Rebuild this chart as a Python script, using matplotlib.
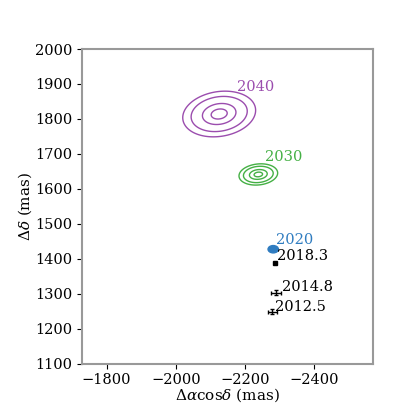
import numpy as np
import matplotlib
matplotlib.use("Agg")
import matplotlib.pyplot as plt
from matplotlib.patches import Ellipse

plt.rcParams['font.family'] = 'DejaVu Serif'
plt.rcParams['mathtext.fontset'] = 'dejavuserif'

# measured epochs (ra offset, dec offset, errors)
epochs = ['2012.5', '2014.8', '2018.3']
ra_obs = [-2278, -2289, -2285]
dec_obs = [1248, 1303, 1387]
ra_err = [13, 13, 0]
dec_err = [7, 7, 0]
obs_marker_size = [0, 0, 2.5]

# predicted positions: centre, outer contour semi-axes, tilt (deg)
pred_years = ['2030', '2040']
pred_colors = ['#45b045', '#9b4dae']
pred_center_ra = [-2238, -2125]
pred_center_dec = [1641, 1814]
pred_semi_a = [56, 106]
pred_semi_b = [30, 64]
pred_tilt = [-6, -9]
contour_fracs = [0.22, 0.46, 0.77, 1.0]

# 2020 prediction (small filled ellipse)
ra_2020 = -2281
dec_2020 = 1427
w_2020 = 30
h_2020 = 21

fig = plt.figure(figsize=(4.15, 4.15), dpi=100)
ax = fig.add_axes([82 / 415, 1 - 363.5 / 415, 291 / 415, 314.5 / 415])

# contours of predicted positions
gx, gy = np.meshgrid(np.linspace(-2600, -1700, 600), np.linspace(1100, 2000, 600))
for i in range(len(pred_years)):
    t = np.deg2rad(pred_tilt[i])
    dx = gx - pred_center_ra[i]
    dy = gy - pred_center_dec[i]
    u = dx * np.cos(t) + dy * np.sin(t)
    v = -dx * np.sin(t) + dy * np.cos(t)
    r = np.sqrt((u / pred_semi_a[i]) ** 2 + (v / pred_semi_b[i]) ** 2)
    ax.contour(gx, gy, r, levels=contour_fracs, colors=pred_colors[i], linewidths=1.0)

ax.add_patch(Ellipse((ra_2020, dec_2020), w_2020, h_2020, color='#2f7cc0'))

for i in range(len(epochs)):
    ax.errorbar(ra_obs[i], dec_obs[i], xerr=ra_err[i], yerr=dec_err[i], fmt='s',
                color='black', markersize=obs_marker_size[i], elinewidth=1,
                capsize=1.5, capthick=1)

# labels
fs = 10.5
ax.text(-2175, 1890, '2040', color=pred_colors[1], fontsize=fs, va='center')
ax.text(-2256, 1690, '2030', color=pred_colors[0], fontsize=fs, va='center')
ax.text(-2288, 1453, '2020', color='#2f7cc0', fontsize=fs, va='center')
ax.text(-2293, 1407, '2018.3', color='black', fontsize=fs, va='center')
ax.text(-2305, 1319, '2014.8', color='black', fontsize=fs, va='center')
ax.text(-2285, 1262, '2012.5', color='black', fontsize=fs, va='center')

ax.set_xlim(-1729, -2569)
ax.set_ylim(1100, 2000)
ax.set_xticks([-1800, -2000, -2200, -2400])
ax.set_yticks(np.arange(1100, 2001, 100))
ax.tick_params(labelsize=fs, color='black')
for s in ax.spines.values():
    s.set_color('#999999')
    s.set_linewidth(1.5)

ax.set_xlabel(r'$\Delta\alpha\mathrm{cos}\delta$ (mas)', fontsize=11, labelpad=-1)
ax.set_ylabel(r'$\Delta\delta$ (mas)', fontsize=11, labelpad=1)

fig.savefig('out.png', dpi=100)
